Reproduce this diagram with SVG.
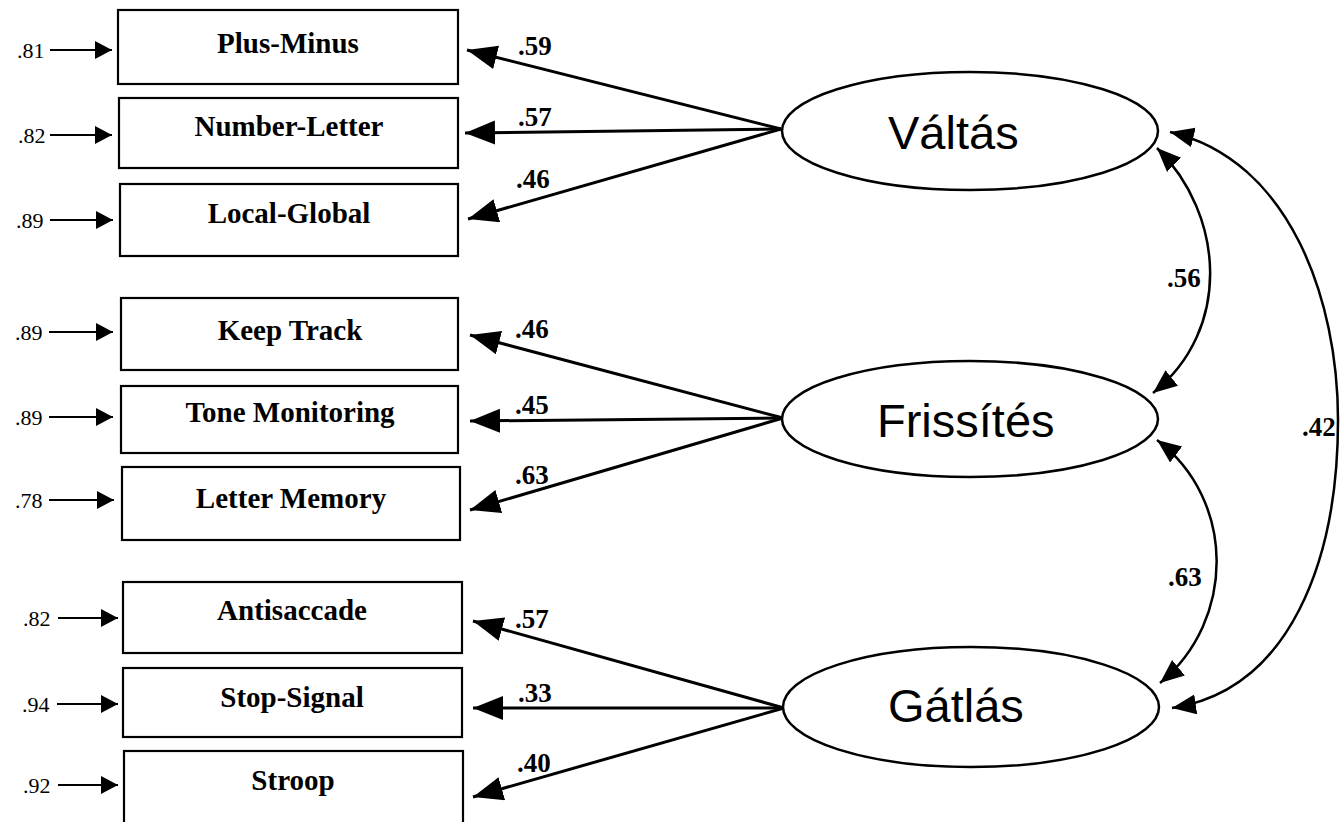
<svg xmlns="http://www.w3.org/2000/svg" width="1340" height="822" viewBox="0 0 1340 822">
<style>
.box{fill:#fff;stroke:#000;stroke-width:2.2}
.ell{fill:#fff;stroke:#000;stroke-width:2.5}
.bl{font-family:"Liberation Serif","Times New Roman",serif;font-weight:bold;font-size:29px;text-anchor:middle;fill:#000}
.el{font-family:"Liberation Serif","Times New Roman",serif;font-size:22px;fill:#000}
.nl{font-family:"Liberation Serif","Times New Roman",serif;font-weight:bold;font-size:27px;fill:#000}
.fl{font-family:"Liberation Sans",Arial,sans-serif;font-size:47px;fill:#000}
.ld{stroke:#000;stroke-width:3;fill:none;marker-end:url(#ah)}
.er{stroke:#000;stroke-width:2;fill:none;marker-end:url(#eh)}
.cv{stroke:#000;stroke-width:2.5;fill:none;marker-start:url(#ch);marker-end:url(#ch)}
</style>
<defs>
<marker id="ah" markerUnits="userSpaceOnUse" markerWidth="32" markerHeight="26" refX="30" refY="12" orient="auto"><path d="M0,0 L30,12 L0,24 z" fill="#000"/></marker>
<marker id="eh" markerUnits="userSpaceOnUse" markerWidth="18" markerHeight="20" refX="17" refY="9" orient="auto"><path d="M0,0 L17,9 L0,18 z" fill="#000"/></marker>
<marker id="ch" markerUnits="userSpaceOnUse" markerWidth="26" markerHeight="22" refX="24" refY="10" orient="auto-start-reverse"><path d="M0,0 L24,10 L0,20 z" fill="#000"/></marker>
</defs>

<g id="connectors">
<line class="er" x1="50" y1="50" x2="112" y2="50"/>
<line class="er" x1="50" y1="135" x2="112" y2="135"/>
<line class="er" x1="50" y1="220" x2="113" y2="220"/>
<line class="er" x1="49" y1="332" x2="113" y2="332"/>
<line class="er" x1="49" y1="417" x2="113" y2="417"/>
<line class="er" x1="49" y1="500" x2="114" y2="500"/>
<line class="er" x1="58" y1="618" x2="118" y2="618"/>
<line class="er" x1="57" y1="704" x2="118" y2="704"/>
<line class="er" x1="58" y1="785" x2="118" y2="785"/>
<line class="ld" x1="781" y1="129" x2="467" y2="50"/>
<line class="ld" x1="781" y1="129" x2="465" y2="133"/>
<line class="ld" x1="781" y1="129" x2="468" y2="219"/>
<line class="ld" x1="783" y1="418" x2="470" y2="335"/>
<line class="ld" x1="783" y1="418" x2="470" y2="421"/>
<line class="ld" x1="783" y1="418" x2="470" y2="510"/>
<line class="ld" x1="784" y1="708" x2="473" y2="621"/>
<line class="ld" x1="784" y1="708" x2="473" y2="708"/>
<line class="ld" x1="784" y1="708" x2="473" y2="797"/>
<path class="cv" d="M1157,148 C1225,215 1232,330 1153,393"/>
<path class="cv" d="M1157,440 C1236,500 1236,620 1160,683"/>
<path class="cv" d="M1170,132 C1290,160 1338,300 1338,420 C1338,560 1290,690 1172,708"/>
</g>

<g id="labels">
<text class="el" x="17" y="58">.81</text>
<text class="el" x="18" y="143">.82</text>
<text class="el" x="16" y="228">.89</text>
<text class="el" x="15" y="340">.89</text>
<text class="el" x="15" y="425">.89</text>
<text class="el" x="15" y="508">.78</text>
<text class="el" x="23" y="626">.82</text>
<text class="el" x="22" y="712">.94</text>
<text class="el" x="23" y="793">.92</text>
<text class="nl" x="518" y="55">.59</text>
<text class="nl" x="518" y="126">.57</text>
<text class="nl" x="516" y="188">.46</text>
<text class="nl" x="515" y="338">.46</text>
<text class="nl" x="515" y="414">.45</text>
<text class="nl" x="515" y="484">.63</text>
<text class="nl" x="515" y="628">.57</text>
<text class="nl" x="518" y="702">.33</text>
<text class="nl" x="517" y="772">.40</text>
<text class="nl" x="1167" y="287">.56</text>
<text class="nl" x="1168" y="586">.63</text>
<text class="nl" x="1302" y="436">.42</text>
</g>

<g id="n-plus-minus"><rect class="box" x="118" y="10" width="340" height="74"/><text class="bl" x="288" y="53">Plus-Minus</text></g>
<g id="n-number-letter"><rect class="box" x="119" y="98" width="339" height="70"/><text class="bl" x="289" y="136">Number-Letter</text></g>
<g id="n-local-global"><rect class="box" x="120" y="184" width="338" height="72"/><text class="bl" x="289" y="223">Local-Global</text></g>
<g id="n-keep-track"><rect class="box" x="121" y="298" width="337" height="72"/><text class="bl" x="290" y="340">Keep Track</text></g>
<g id="n-tone-monitoring"><rect class="box" x="121" y="386" width="337" height="67"/><text class="bl" x="290" y="422">Tone Monitoring</text></g>
<g id="n-letter-memory"><rect class="box" x="122" y="467" width="338" height="73"/><text class="bl" x="291" y="508">Letter Memory</text></g>
<g id="n-antisaccade"><rect class="box" x="123" y="582" width="339" height="71"/><text class="bl" x="292" y="620">Antisaccade</text></g>
<g id="n-stop-signal"><rect class="box" x="123" y="668" width="339" height="69"/><text class="bl" x="292" y="707">Stop-Signal</text></g>
<g id="n-stroop"><rect class="box" x="124" y="751" width="339" height="80"/><text class="bl" x="293" y="790">Stroop</text></g>

<g id="n-valtas"><ellipse class="ell" cx="970" cy="131" rx="188" ry="59"/><text class="fl" x="888" y="149">Váltás</text></g>
<g id="n-frissites"><ellipse class="ell" cx="970" cy="419" rx="188" ry="58"/><text class="fl" x="877" y="437">Frissítés</text></g>
<g id="n-gatlas"><ellipse class="ell" cx="971" cy="707" rx="188" ry="60"/><text class="fl" x="888" y="722">Gátlás</text></g>
</svg>
